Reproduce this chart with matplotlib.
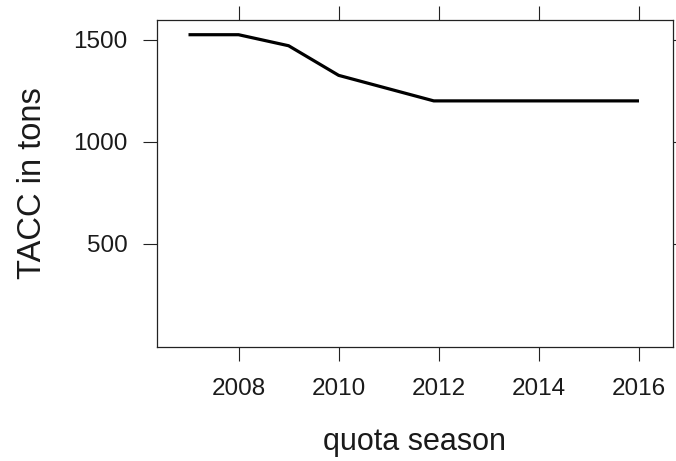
import matplotlib
matplotlib.use("Agg")
import matplotlib.pyplot as plt

# TACC by quota season
season = [2007, 2008, 2009, 2010, 2011.9, 2016]
tacc = [1524, 1524, 1470, 1325, 1200, 1200]

x_ticks = [2008, 2010, 2012, 2014, 2016]
y_ticks = [500, 1000, 1500]

plt.rcParams["font.family"] = ["Liberation Sans", "DejaVu Sans"]

fig = plt.figure(figsize=(6.76, 4.61), dpi=100)
ax = fig.add_axes([0.2322, 0.2473, 0.7634, 0.7093])

ax.plot(season, tacc, color="black", linewidth=2.3, solid_capstyle="butt")

ax.set_xlim(2006.37, 2016.68)
ax.set_ylim(-5, 1596)
ax.set_xticks(x_ticks)
ax.set_yticks(y_ticks)

ax.tick_params(axis="both", which="both", direction="out", length=10, width=0.8,
               color="#222222", labelsize=17.5, labelcolor="#1a1a1a",
               top=True, right=True, labeltop=False, labelright=False)
ax.tick_params(axis="x", pad=12)
ax.tick_params(axis="y", pad=11)

for s in ax.spines.values():
    s.set_linewidth(0.9)
    s.set_color("#222222")

ax.set_xlabel("quota season", fontsize=22, color="#1a1a1a", labelpad=20)
ax.set_ylabel("TACC in tons", fontsize=23.5, color="#1a1a1a", labelpad=18)

fig.savefig("out.png", dpi=100)
